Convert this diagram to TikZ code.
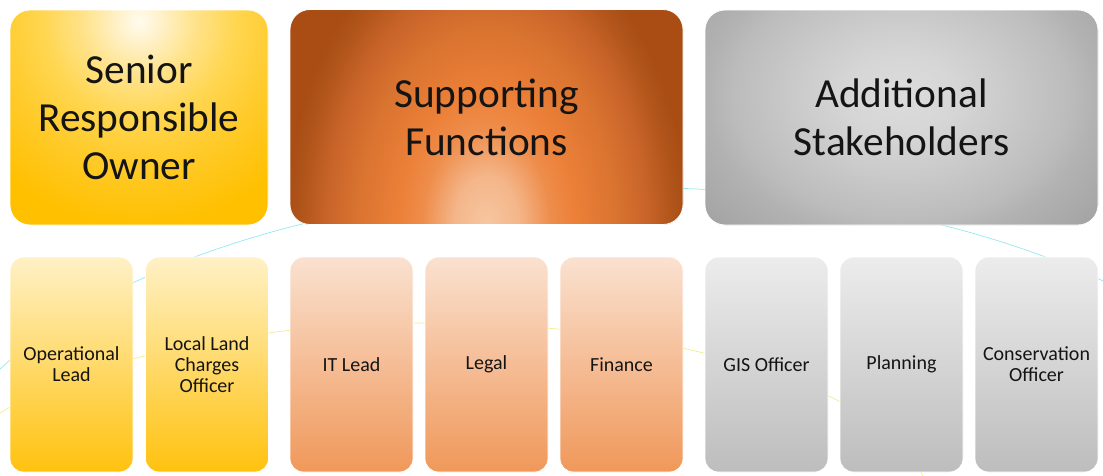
\documentclass[tikz,border=0pt]{standalone}
\usepackage{fontspec}
\setmainfont{Carlito}
\definecolor{srowhite}{HTML}{FFFBEF}
\definecolor{srocream}{HTML}{FFF0C4}
\definecolor{srolight}{HTML}{FFE38C}
\definecolor{srotop}{HTML}{FFD650}
\definecolor{srogoldb}{HTML}{FFCB2C}
\definecolor{srogold}{HTML}{FFC000}
\definecolor{suppeach}{HTML}{F7C6A0}
\definecolor{suplight}{HTML}{F4B68A}
\definecolor{supsoft}{HTML}{EE8D4B}
\definecolor{suporange}{HTML}{EC8038}
\definecolor{supburnt}{HTML}{DA7430}
\definecolor{suprust}{HTML}{C8642A}
\definecolor{supbrown}{HTML}{AE5319}
\definecolor{supdark}{HTML}{A94D14}
\definecolor{stlight}{HTML}{DCDCDC}
\definecolor{stpale}{HTML}{D6D6D6}
\definecolor{stsoft}{HTML}{CACACA}
\definecolor{stmid}{HTML}{BCBCBC}
\definecolor{stgray}{HTML}{B2B2B2}
\definecolor{stdark}{HTML}{A3A3A3}
\definecolor{subgoldtop}{HTML}{FFF1C6}
\definecolor{subgoldbot}{HTML}{FFC20E}
\definecolor{suborgtop}{HTML}{FAE1D0}
\definecolor{suborgbot}{HTML}{F0985A}
\definecolor{subgrytop}{HTML}{ECECEC}
\definecolor{subgrybot}{HTML}{BDBDBD}
\definecolor{ringcyan}{HTML}{8FE6F0}
\definecolor{ringyellow}{HTML}{F2EC8A}
\definecolor{inkblack}{HTML}{141414}

% round light spots, laid over a box with path picture
\pgfdeclareradialshading{sroshade}{\pgfpointorigin}{color(0bp)=(srowhite); color(2.85bp)=(srocream);
  color(6.25bp)=(srolight); color(11bp)=(srotop); color(16bp)=(srogoldb); color(23.25bp)=(srogold);
  color(25bp)=(srogold)}
\pgfdeclareradialshading{supshade}{\pgfpointorigin}{color(0bp)=(suppeach); color(4bp)=(suplight);
  color(8bp)=(supsoft); color(11bp)=(suporange); color(16bp)=(supburnt); color(20bp)=(suprust);
  color(23.5bp)=(supbrown); color(25bp)=(supdark)}
\pgfdeclareradialshading{stakeshade}{\pgfpointorigin}{color(0bp)=(stlight); color(5bp)=(stpale);
  color(10bp)=(stsoft); color(15.5bp)=(stmid); color(18bp)=(stgray); color(24bp)=(stdark);
  color(25bp)=(stdark)}

\begin{document}
\begin{tikzpicture}[
    x=0.75pt, y=-0.75pt,
    every node/.style={text=inkblack},
    topbox/.style={rounded corners=15pt, minimum height=161.25pt, align=center,
      font=\fontsize{31}{36}\selectfont, draw=white, line width=0.6pt},
    subbox/.style={rounded corners=10pt, minimum width=92.25pt, minimum height=161.25pt,
      align=center, font=\fontsize{15}{15.75}\selectfont, draw=white, line width=0.6pt},
    srobox/.style={topbox, minimum width=193.5pt, fill=srogold,
      path picture={\shade[shading=sroshade]
        ([xshift=-165pt, yshift=-173pt]path picture bounding box.north) rectangle
        ([xshift=165pt, yshift=157pt]path picture bounding box.north);}},
    supbox/.style={topbox, minimum width=294.75pt, fill=supdark,
      path picture={\shade[shading=supshade]
        ([xshift=-150pt, yshift=-225pt]path picture bounding box.south) rectangle
        ([xshift=150pt, yshift=225pt]path picture bounding box.south);}},
    stakebox/.style={topbox, minimum width=294.75pt, fill=stdark,
      path picture={\shade[shading=stakeshade]
        ([xshift=-202.5pt, yshift=-213.75pt]path picture bounding box.north) rectangle
        ([xshift=202.5pt, yshift=86.25pt]path picture bounding box.north);}},
    subgold/.style={subbox, top color=subgoldtop, bottom color=subgoldbot},
    suborange/.style={subbox, top color=suborgtop, bottom color=suborgbot},
    subgray/.style={subbox, top color=subgrytop, bottom color=subgrybot},
    ring/.style={line width=0.5pt},
  ]

  % Page
  \useasboundingbox (0,0) rectangle (1103,475);

  % Faint rings behind the boxes
  \draw[ring, ringcyan] (620,527) ellipse [x radius=525pt, y radius=255pt];
  \draw[ring, ringyellow] (430,507) ellipse [x radius=375pt, y radius=138pt];

  % Top row
  \node[srobox] (sro) at (139,117.5) {Senior\\Responsible\\Owner};
  \node[supbox] (support) at (486.5,117) {Supporting\\Functions};
  \node[stakebox] (stake) at (901.5,117.5) {Additional\\Stakeholders};

  % Bottom row
  \node[subgold] (oplead) at (71.5,364.5) {Operational\\Lead};
  \node[subgold] (llc) at (207,364.5) {Local Land\\Charges\\Officer};
  \node[suborange] (itlead) at (351.5,364.5) {IT Lead};
  \node[suborange] (legal) at (486.5,364.5) {Legal};
  \node[suborange] (finance) at (621.5,364.5) {Finance};
  \node[subgray] (gis) at (766.5,364.5) {GIS Officer};
  \node[subgray] (planning) at (901.5,364.5) {Planning};
  \node[subgray] (conserv) at (1036.5,364.5) {Conservation\\Officer};

\end{tikzpicture}
\end{document}
